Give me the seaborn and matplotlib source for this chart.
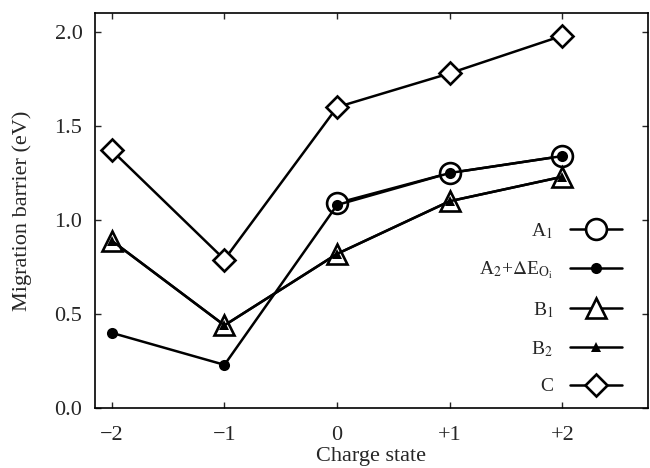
import matplotlib
matplotlib.use("Agg")
import matplotlib.pyplot as plt
import seaborn as sns
import pandas as pd

charge = [-2, -1, 0, 1, 2]
tick_labels = ["\u22122", "\u22121", "0", "+1", "+2"]

A1_x = [0, 1, 2]
A1 = [1.09, 1.25, 1.34]
A2 = [0.40, 0.23, 1.08, 1.25, 1.34]
B1 = [0.89, 0.44, 0.82, 1.10, 1.23]
B2 = [0.89, 0.44, 0.82, 1.10, 1.23]
C = [1.37, 0.79, 1.60, 1.78, 1.98]

sns.set_theme(style="ticks")
plt.rcParams["font.family"] = ["Liberation Serif", "DejaVu Serif"]
plt.rcParams["mathtext.fontset"] = "stix"

fig, ax = plt.subplots(figsize=(6.5, 4.68), dpi=100)
fig.subplots_adjust(left=0.146, right=0.997, top=0.972, bottom=0.128)

series = [
    ("A$_1$", A1_x, A1, dict(marker="o", markersize=15, markerfacecolor="white", markeredgewidth=1.9)),
    ("A$_2$+$\\Delta$E$_{\\mathrm{O_i}}$", charge, A2, dict(marker="o", markersize=8, markerfacecolor="black", markeredgewidth=0)),
    ("B$_1$", charge, B1, dict(marker="^", markersize=14, markerfacecolor="white", markeredgewidth=1.9)),
    ("B$_2$", charge, B2, dict(marker="^", markersize=7, markerfacecolor="black", markeredgewidth=0)),
    ("C", charge, C, dict(marker="D", markersize=11, markerfacecolor="white", markeredgewidth=1.9)),
]

for label, xs, ys, kw in series:
    df = pd.DataFrame({"x": xs, "y": ys})
    sns.lineplot(data=df, x="x", y="y", ax=ax, color="black", linewidth=1.8,
                 markeredgecolor="black", label=label, **kw)

ax.set_xlim(-2.15, 2.76)
ax.set_ylim(0, 2.10)
ax.set_xticks(charge)
ax.set_xticklabels(tick_labels)
ax.set_yticks([0.0, 0.5, 1.0, 1.5, 2.0])
ax.set_yticklabels(["0.0", "0.5", "1.0", "1.5", "2.0"])
ax.tick_params(direction="in", length=4, width=1, labelsize=16, top=True, right=True)
ax.tick_params(axis="y", pad=9)
ax.tick_params(axis="x", pad=13)
for s in ax.spines.values():
    s.set_linewidth(1.2)
    s.set_color("black")
ax.set_xlabel("Charge state", fontsize=16, labelpad=1)
ax.set_ylabel("Migration barrier (eV)", fontsize=16, labelpad=16)

leg = ax.legend(loc="lower right", bbox_to_anchor=(0.985, -0.012), frameon=False,
                markerfirst=False, handlelength=2.7, labelspacing=0.98, fontsize=14,
                handletextpad=0.85)

fig.savefig("out.png", dpi=100)
